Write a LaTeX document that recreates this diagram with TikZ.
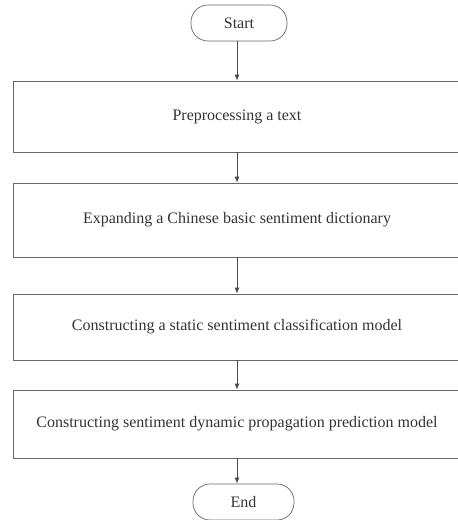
\documentclass[tikz,border=0pt]{standalone}
\usepackage{fontspec}
\setmainfont{Liberation Serif}
\usetikzlibrary{arrows.meta}

\begin{document}
\begin{tikzpicture}[x=1pt, y=-1pt, >={Latex[length=6pt,width=5pt]},
  every node/.style={font=\fontsize{16}{18}\selectfont, text=black!80},
  terminal/.style={draw=black!60, line width=0.7pt, rounded corners=17pt, minimum width=96pt, minimum height=36pt, inner sep=0pt},
  stepbox/.style={draw=black!60, line width=0.7pt, minimum width=448pt, inner sep=0pt},
  flow/.style={->, draw=black!70, line width=0.8pt}]
  \useasboundingbox (0,0) rectangle (458,520);
  \node[terminal] (start) at (239,23) {Start};
  \node[stepbox, minimum height=71pt] (pre) at (237,116.5) {Preprocessing a text};
  \node[stepbox, minimum height=74pt] (dict) at (237,220) {Expanding a Chinese basic sentiment dictionary};
  \node[stepbox, minimum height=66pt] (static) at (237,327) {Constructing a static sentiment classification model};
  \node[stepbox, minimum height=68pt] (dynamic) at (237,424) {Constructing sentiment dynamic propagation prediction model};
  \node[terminal, minimum width=101pt] (end) at (243.5,502) {End};
  \draw[flow] (start.south -| pre.north) -- (pre.north);
  \draw[flow] (pre) -- (dict);
  \draw[flow] (dict) -- (static);
  \draw[flow] (static) -- (dynamic);
  \draw[flow] (dynamic.south) -- (dynamic.south |- end.north);
\end{tikzpicture}
\end{document}
